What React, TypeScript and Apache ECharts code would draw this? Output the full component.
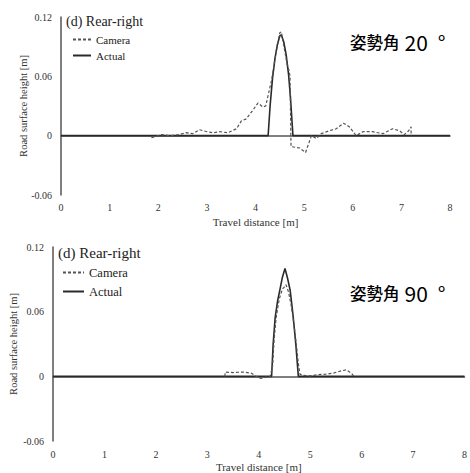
import React, { useEffect, useRef } from "react";
import * as echarts from "echarts";

// Top panel (姿勢角 20°): [travel distance m, road surface height m]
const cameraTop: [number, number][] = [
  [1.86, -0.002], [2.07, 0.001], [2.24, 0.0], [2.42, 0.001], [2.58, 0.003], [2.71, 0.002],
  [2.85, 0.006], [3.0, 0.004], [3.13, 0.003], [3.26, 0.004], [3.43, 0.003], [3.61, 0.007],
  [3.71, 0.015], [3.81, 0.017], [3.95, 0.026], [4.05, 0.033], [4.15, 0.029], [4.21, 0.03],
  [4.33, 0.056], [4.43, 0.086], [4.5, 0.104], [4.53, 0.105], [4.6, 0.086], [4.65, 0.072],
  [4.69, 0.066], [4.71, 0.06], [4.73, -0.011], [4.91, -0.0125], [5.03, -0.017], [5.15, 0.0],
  [5.25, -0.003], [5.35, 0.002], [5.52, 0.005], [5.66, 0.007], [5.81, 0.0125], [5.93, 0.009],
  [6.07, 0.0], [6.21, 0.004], [6.41, 0.004], [6.62, 0.002], [6.82, 0.007], [6.96, 0.005],
  [7.06, 0.001], [7.15, 0.005], [7.2, 0.009], [7.2, 0.0],
];
const actualTop: [number, number][] = [
  [0, 0], [4.26, 0], [4.3, 0.03], [4.35, 0.058], [4.4, 0.078], [4.45, 0.092], [4.5, 0.101],
  [4.53, 0.102], [4.58, 0.095], [4.63, 0.082], [4.68, 0.062], [4.72, 0.038], [4.75, 0.015],
  [4.77, 0], [8, 0],
];

// Bottom panel (姿勢角 90°)
const cameraBottom: [number, number][] = [
  [3.34, 0.0], [3.35, 0.004], [3.5, 0.0035], [3.7, 0.004], [3.85, 0.003], [3.95, 0.0],
  [4.04, -0.002], [4.12, -0.001], [4.22, -0.0005], [4.27, 0.01], [4.3, 0.035], [4.34, 0.055],
  [4.4, 0.072], [4.46, 0.081], [4.5, 0.083], [4.53, 0.085], [4.58, 0.078], [4.63, 0.066],
  [4.68, 0.05], [4.73, 0.03], [4.77, 0.012], [4.8, 0.002], [4.85, 0.001], [5.0, 0.0005],
  [5.15, 0.0015], [5.3, 0.002], [5.45, 0.003], [5.6, 0.005], [5.7, 0.006], [5.8, 0.003],
  [5.85, 0.0],
];
const actualBottom: [number, number][] = [
  [0, 0], [4.25, 0], [4.28, 0.03], [4.32, 0.055], [4.37, 0.071], [4.41, 0.08], [4.46, 0.092],
  [4.51, 0.1], [4.56, 0.091], [4.61, 0.08], [4.64, 0.068], [4.67, 0.055], [4.72, 0.03],
  [4.77, 0], [8, 0],
];

const panelTitle = "(d) Rear-right";
const angleWord = "姿勢角";
const angleValues = ["20", "90"];
const seriesNames = ["Camera", "Actual"];
const xName = "Travel distance [m]";
const yName = "Road surface height [m]";

const SERIF = "'Liberation Serif', 'DejaVu Serif', serif";
const CJK = "'Noto Sans CJK JP', 'Noto Sans', sans-serif";

export default function App() {
  const ref = useRef<HTMLDivElement>(null);
  useEffect(() => {
    document.body.style.margin = "0";
    if (!ref.current) return;
    const chart = echarts.init(ref.current, null, { renderer: "svg" });
    const axisLine = { show: true, lineStyle: { color: "#555", width: 1.5 } };
    const labelStyle = { fontFamily: SERIF, fontSize: 10, color: "#333" };
    const xAxis = (gridIndex: number, gap: number) => ({
      type: "value", gridIndex, min: 0, max: 8, interval: 1,
      axisLine, axisTick: { show: false }, splitLine: { show: false },
      axisLabel: { ...labelStyle, margin: gap },
      name: xName, nameLocation: "middle", nameGap: gridIndex === 0 ? 21 : 20,
      nameMoveOverlap: false,
      nameTextStyle: { fontFamily: SERIF, fontSize: 11, color: "#333" },
    });
    const yAxis = (gridIndex: number, nameGap: number) => ({
      type: "value", gridIndex, min: -0.06, max: 0.12, interval: 0.06,
      axisLine, axisTick: { show: false }, splitLine: { show: false },
      axisLabel: {
        ...labelStyle, margin: 9,
        formatter: (v: number) => String(Math.round(v * 100) / 100),
      },
      name: yName, nameLocation: "middle", nameGap, nameRotate: 90,
      nameMoveOverlap: false,
      nameTextStyle: { fontFamily: SERIF, fontSize: 10.5, color: "#333" },
    });
    const line = (name: string, data: [number, number][], idx: number, dashed: boolean) => ({
      name, type: "line", data, xAxisIndex: idx, yAxisIndex: idx,
      symbol: "none", showSymbol: false,
      lineStyle: dashed
        ? { color: "#555", width: 1.2, type: [3, 2] }
        : { color: "#2a2a2a", width: 1.6, type: "solid" },
      itemStyle: { color: dashed ? "#555" : "#2a2a2a" },
      z: dashed ? 3 : 2,
    });
    const angleRich = {
      k: { fontFamily: CJK, fontSize: 16.5, fontWeight: 500, color: "#000" },
      d: { fontFamily: CJK, fontSize: 21, fontWeight: "normal", color: "#000", padding: [0, 0, 0, 5] },
      g: { fontFamily: CJK, fontSize: 21, fontWeight: "normal", color: "#000", padding: [0, 0, 0, 10] },
    };
    const angleTitle = (v: string, top: number) => ({
      text: `{k|${angleWord}}{d|${v}}{g|°}`, left: 350, top, padding: 0,
      textStyle: { rich: angleRich },
    });
    chart.setOption({
      animation: false,
      backgroundColor: "#fff",
      title: [
        { text: panelTitle, left: 66, top: 14, padding: 0,
          textStyle: { fontFamily: SERIF, fontSize: 14, fontWeight: "normal", color: "#222" } },
        angleTitle(angleValues[0], 31),
        { text: panelTitle, left: 58, top: 245, padding: 0,
          textStyle: { fontFamily: SERIF, fontSize: 15, fontWeight: "normal", color: "#222" } },
        angleTitle(angleValues[1], 282),
      ],
      legend: [
        { left: 72, top: 34, orient: "vertical", data: seriesNames, padding: 0,
          itemWidth: 18, itemHeight: 10, itemGap: 5, selectedMode: false,
          itemStyle: { opacity: 0 },
          textStyle: { fontFamily: SERIF, fontSize: 11, color: "#222" } },
        { left: 62, top: 266, orient: "vertical", data: seriesNames, padding: 0,
          itemWidth: 21, itemHeight: 10, itemGap: 6, selectedMode: false,
          itemStyle: { opacity: 0 },
          textStyle: { fontFamily: SERIF, fontSize: 12.5, color: "#222" } },
      ],
      grid: [
        { left: 61, top: 17, width: 389, height: 178 },
        { left: 53, top: 247, width: 419, height: 194 },
      ],
      xAxis: [xAxis(0, 7), xAxis(1, 8)],
      yAxis: [yAxis(0, 32), yAxis(1, 34)],
      series: [
        line(seriesNames[0], cameraTop, 0, true),
        line(seriesNames[1], actualTop, 0, false),
        line(seriesNames[0], cameraBottom, 1, true),
        line(seriesNames[1], actualBottom, 1, false),
      ],
    });
    return () => chart.dispose();
  }, []);
  return <div ref={ref} style={{ width: 470, height: 473 }} />;
}
